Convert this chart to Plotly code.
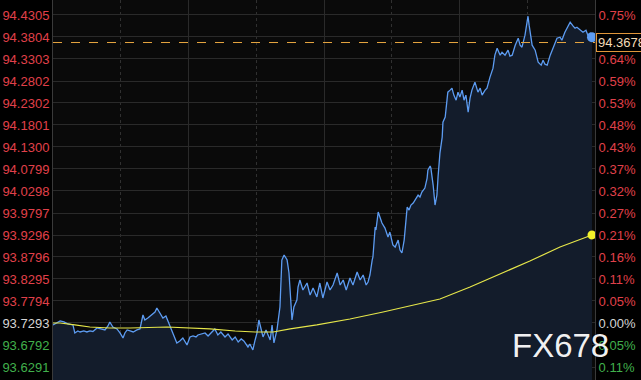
import plotly.graph_objects as go

# ---------------- data ----------------
minutes = [0, 8, 19, 29, 40, 53, 58, 66, 72, 82, 90, 98, 106, 117, 125, 138, 146, 151, 159, 170,
           178, 186, 191, 197, 205, 213, 223, 231, 239, 244, 252, 258, 263, 271, 276, 284, 292, 300,
           311, 319, 324, 329, 337, 345, 356, 364, 372, 380, 385, 393, 404, 412, 420, 430, 438, 446,
           457, 465, 476, 484, 492, 500, 507, 518, 523, 529, 531, 537, 542, 547, 553, 558, 566, 571,
           577, 582, 587, 595, 603, 608, 614, 619, 622, 627, 632, 635, 640, 648, 651, 656, 664, 670,
           675, 683, 691, 701, 709, 717, 723, 728, 736, 744, 755, 763, 771, 779, 789, 797, 808, 816,
           824, 832, 837, 842, 848, 850, 856, 858, 864, 869, 874, 882, 890, 895, 903, 909, 917, 922,
           927, 933, 935, 941, 946, 951, 957, 962, 970, 975, 980, 988, 994, 996, 1002, 1004, 1010,
           1015, 1020, 1023, 1028, 1034, 1036, 1042, 1047, 1049, 1055, 1060, 1065, 1071, 1076, 1081,
           1087, 1092, 1097, 1103, 1108, 1113, 1121, 1129, 1135, 1140, 1148, 1153, 1161, 1169, 1174,
           1180, 1188, 1193, 1201, 1209, 1214, 1220, 1228, 1236, 1241, 1246, 1254, 1259, 1262, 1265,
           1267, 1273, 1281, 1289, 1297, 1302, 1307, 1313, 1321, 1329, 1334, 1339, 1347, 1352, 1360,
           1368, 1374, 1382, 1387, 1392, 1400, 1408, 1416, 1421, 1427, 1432]

prices = [93.7248, 93.7293, 93.7339, 93.7316, 93.7270, 93.7248, 93.7066, 93.7111, 93.7088, 93.7111,
          93.7088, 93.7111, 93.7100, 93.7179, 93.7157, 93.7134, 93.7225, 93.7316, 93.7202, 93.7157,
          93.7066, 93.6952, 93.7066, 93.7134, 93.7111, 93.7088, 93.7134, 93.7157, 93.7475, 93.7361,
          93.7407, 93.7452, 93.7475, 93.7543, 93.7634, 93.7521, 93.7407, 93.7452, 93.7202, 93.7020,
          93.6906, 93.6838, 93.6884, 93.6952, 93.6793, 93.6975, 93.6997, 93.6975, 93.7020, 93.7043,
          93.7066, 93.6997, 93.7066, 93.7157, 93.7020, 93.7088, 93.6975, 93.7043, 93.6906, 93.6975,
          93.6861, 93.6929, 93.6884, 93.6747, 93.6815, 93.6724, 93.6679, 93.6906, 93.7066, 93.7361,
          93.7179, 93.6975, 93.7134, 93.7043, 93.6906, 93.7248, 93.6838, 93.7134, 93.7657, 93.8726,
          93.8840, 93.8772, 93.8726, 93.8431, 93.7748, 93.7361, 93.7657, 93.7816, 93.8112, 93.8271,
          93.8044, 93.8135, 93.8203, 93.7930, 93.8089, 93.7885, 93.8203, 93.7862, 93.8044, 93.8226,
          93.8044, 93.8158, 93.8431, 93.8158, 93.8271, 93.8044, 93.8317, 93.8158, 93.8453, 93.8271,
          93.8385, 93.8158, 93.8226, 93.8385, 93.8726, 93.8795, 93.9477, 93.9409, 93.9818, 93.9682,
          93.9568, 93.9454, 93.9250, 93.9363, 93.9068, 93.9022, 93.9181, 93.8954, 93.8886, 93.9181,
          93.9409, 93.9932, 93.9864, 93.9978, 94.0023, 94.0091, 94.0205, 94.0160, 94.0273, 94.0364,
          94.0592, 94.0774, 94.0865, 94.0819, 94.0433, 93.9978, 94.0205, 94.0615, 94.1161, 94.1525,
          94.1866, 94.1980, 94.2298, 94.2548, 94.2594, 94.2639, 94.2480, 94.2366, 94.2548, 94.2435,
          94.2594, 94.2366, 94.2480, 94.2093, 94.2412, 94.2594, 94.2776, 94.2548, 94.2639, 94.2480,
          94.2594, 94.2639, 94.2890, 94.3094, 94.3390, 94.3549, 94.3390, 94.3458, 94.3390, 94.3504,
          94.3367, 94.3390, 94.3617, 94.3777, 94.3617, 94.3572, 94.3845, 94.4186, 94.4277, 94.4073,
          94.3959, 94.3617, 94.3504, 94.3231, 94.3163, 94.3276, 94.3185, 94.3163, 94.3390, 94.3549,
          94.3640, 94.3777, 94.3800, 94.3731, 94.3913, 94.4050, 94.4141, 94.4050, 94.4004, 94.4027,
          94.3959, 94.3913, 94.3959, 94.3845, 94.3890, 94.3800]

avg_minutes = [0, 19, 58, 98, 151, 205, 303, 364, 417, 484, 537, 585, 630, 701, 789, 877, 949,
               1028, 1108, 1188, 1267, 1347, 1432]
avg_prices = [93.7293, 93.7293, 93.7248, 93.7202, 93.7179, 93.7179, 93.7202, 93.7179, 93.7157,
              93.7111, 93.7088, 93.7088, 93.7157, 93.7248, 93.7384, 93.7543, 93.7680, 93.7839,
              93.8112, 93.8408, 93.8704, 93.9022, 93.9296]

prev_close = 93.7293
current_price = 94.3678

left_ticks = [93.6291, 93.6792, 93.7293, 93.7794, 93.8295, 93.8796, 93.9296, 93.9797, 94.0298,
              94.0799, 94.1300, 94.1801, 94.2302, 94.2802, 94.3303, 94.3804, 94.4305]
left_labels = ["93.6291", "93.6792", "93.7293", "93.7794", "93.8295", "93.8796", "93.9296",
               "93.9797", "94.0298", "94.0799", "94.1300", "94.1801", "94.2302", "94.2802",
               "94.3303", "94.3804", "94.4305"]
pct_labels = ["0.11%", "0.05%", "0.00%", "0.05%", "0.11%", "0.16%", "0.21%", "0.27%", "0.32%",
              "0.37%", "0.43%", "0.48%", "0.53%", "0.59%", "0.64%", "0.69%", "0.75%"]

y_range = [93.5995, 94.4646]
x_range = [0, 1440]

# ---------------- styling ----------------
RED = "#e0404a"
GREEN = "#41b04c"
NEUTRAL = "#d4d4d4"
BLUE = "#5d9cf2"
YELLOW = "#e6e64a"
GRID = "#2a2a2a"
FONT = "Liberation Sans, Arial, sans-serif"


def colored(labels):
    out = []
    for v, t in zip(left_ticks, labels):
        c = RED if v > prev_close + 1e-9 else (GREEN if v < prev_close - 1e-9 else NEUTRAL)
        out.append(f'<span style="color:{c}">{t}</span>')
    return out


fig = go.Figure()

fig.add_trace(go.Scatter(
    x=minutes, y=prices, mode="lines",
    line=dict(color=BLUE, width=1.3),
    fill="tozeroy", fillcolor="#131c2b",
    hoverinfo="skip", showlegend=False))

fig.add_trace(go.Scatter(
    x=avg_minutes, y=avg_prices, mode="lines",
    line=dict(color=YELLOW, width=1.2),
    hoverinfo="skip", showlegend=False))

fig.add_trace(go.Scatter(
    x=[minutes[-1]], y=[prices[-1]], mode="markers",
    marker=dict(color=BLUE, size=10), hoverinfo="skip", showlegend=False))

fig.add_trace(go.Scatter(
    x=[avg_minutes[-1]], y=[avg_prices[-1]], mode="markers",
    marker=dict(color="#f2f22a", size=9), hoverinfo="skip", showlegend=False))

# invisible trace to activate the right axis
fig.add_trace(go.Scatter(
    x=[minutes[0]], y=[prices[0]], yaxis="y2", mode="markers",
    marker=dict(opacity=0), hoverinfo="skip", showlegend=False))

fig.add_hline(y=current_price, line=dict(color="#e8a640", width=1, dash="dash"))

fig.add_annotation(
    x=1, xref="paper", y=current_price, yref="y", xanchor="left", yanchor="middle",
    text="94.3678", showarrow=False, xshift=1,
    font=dict(family=FONT, size=13, color="#f3dcb8"),
    bgcolor="#000000", bordercolor="#e0963a", borderwidth=1, borderpad=1)

fig.add_annotation(
    x=0.937, xref="paper", y=0.092, yref="paper", xanchor="center", yanchor="middle",
    text="FX678", showarrow=False,
    font=dict(family=FONT, size=33, color="rgba(255,255,255,0.95)"))

fig.update_layout(
    width=641, height=380,
    margin=dict(l=53, r=46, t=0, b=0),
    paper_bgcolor="#000000", plot_bgcolor="#0a0a0a",
    font=dict(family=FONT, size=13),
    xaxis=dict(range=x_range, showticklabels=False, ticks="", zeroline=False,
               showgrid=True, dtick=360, tick0=0, gridcolor=GRID, gridwidth=1,
               minor=dict(dtick=180, tick0=0, showgrid=True, gridcolor="#303030", griddash="dot"),
               showline=False),
    yaxis=dict(range=y_range, tickmode="array", tickvals=left_ticks,
               ticktext=colored(left_labels), ticks="", zeroline=False,
               showgrid=True, gridcolor=GRID, gridwidth=1,
               showline=True, linecolor="#3a3a3a", linewidth=1,
               tickfont=dict(family=FONT, size=13)),
    yaxis2=dict(range=y_range, overlaying="y", side="right", tickmode="array",
                tickvals=left_ticks, ticktext=colored(pct_labels), ticks="",
                showgrid=False, zeroline=False,
                showline=True, linecolor="#3a3a3a", linewidth=1,
                tickfont=dict(family=FONT, size=13)),
)

fig.write_html("out.html",
               config={"displayModeBar": False},
               post_script="document.body.style.margin='0';document.body.style.padding='0';"
                           "document.body.style.background='#000';")
